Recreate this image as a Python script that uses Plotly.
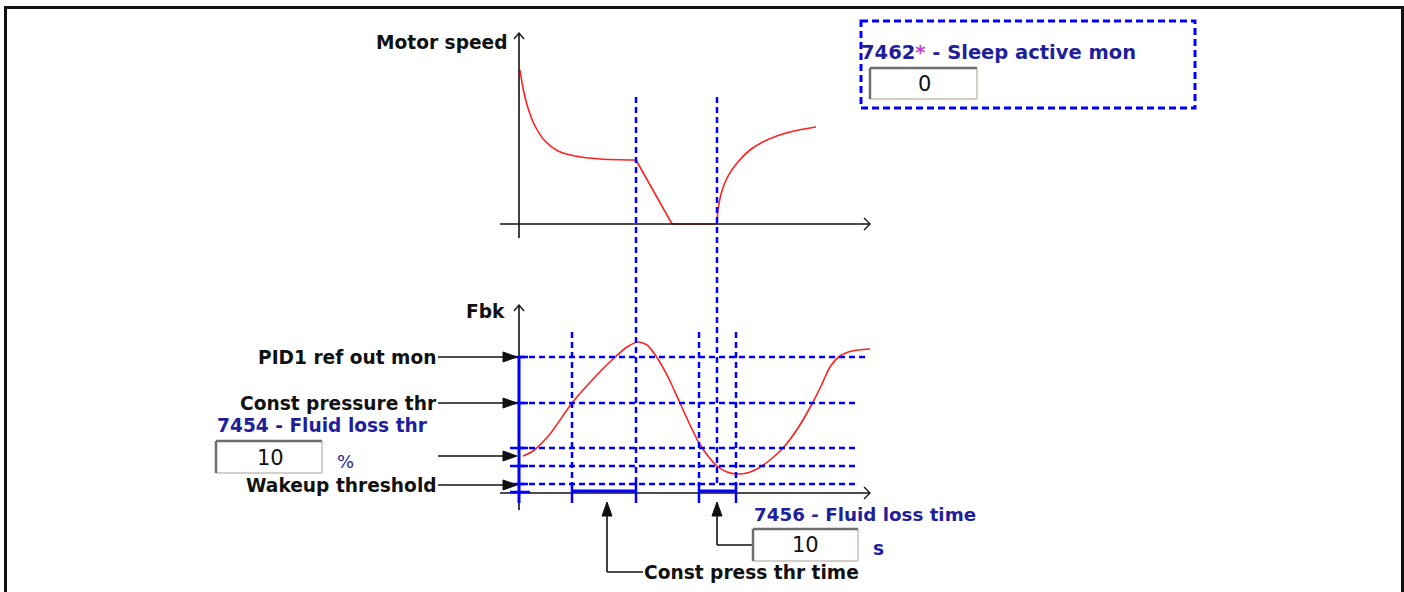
import plotly.graph_objects as go

# ---------------- data (diagram coordinates) ----------------
# Motor speed curve (top panel)
speed_decay_x = [520, 523, 528, 535, 545, 558, 575, 600, 636]
speed_decay_y = [70, 88, 108, 126, 141, 151, 156, 159, 160]
speed_ramp_x = [636, 672, 717]
speed_ramp_y = [160, 224, 224]
speed_rise_x = [717, 718, 721, 727, 737, 750, 767, 790, 816]
speed_rise_y = [224, 210, 194, 178, 163, 150, 140, 132, 127]

# Feedback curve (bottom panel)
fbk_x = [523, 533, 550, 572, 595, 613, 627, 638, 647, 656, 668, 680, 690, 699, 708,
         717, 727, 737, 747, 757, 770, 783, 798, 813, 822, 830, 840, 852, 870]
fbk_y = [456, 451, 434, 403, 377, 359, 347, 342, 345, 356, 377, 403, 425, 443, 456,
         466, 472, 474, 473, 469, 460, 448, 428, 402, 384, 367, 356, 351, 349]

# threshold levels (bottom panel) and their labels
level_y = [357, 403, 448, 466, 484]
level_end = [867, 858, 858, 858, 858]
label_names = ["PID1 ref out mon", "Const pressure thr", None, "Wakeup threshold"]
label_arrow_y = [357, 403, 456, 485]

# event times (vertical markers)
event_x_long = [636, 717]          # run through both panels
event_x_short = [572, 699, 736]    # bottom panel only

BLUE = "#0000ff"
TXT_BLUE = "#1f1f9c"
BLACK = "#111111"
FONT = "DejaVu Sans"

fig = go.Figure()

# curves
fig.add_trace(go.Scatter(x=speed_decay_x, y=speed_decay_y, mode="lines",
                         line=dict(color="#ff2020", width=1.6, shape="spline", smoothing=0.8)))
fig.add_trace(go.Scatter(x=speed_ramp_x, y=speed_ramp_y, mode="lines",
                         line=dict(color="#ff2020", width=1.6)))
fig.add_trace(go.Scatter(x=speed_rise_x, y=speed_rise_y, mode="lines",
                         line=dict(color="#ff2020", width=1.6, shape="spline", smoothing=0.8)))
fig.add_trace(go.Scatter(x=fbk_x, y=fbk_y, mode="lines",
                         line=dict(color="#ff2020", width=1.6, shape="spline", smoothing=0.7)))

shapes = []

def line(x0, y0, x1, y1, color=BLACK, width=1.6, dash=None, layer="above"):
    d = dict(type="line", x0=x0, y0=y0, x1=x1, y1=y1, xref="x", yref="y",
             line=dict(color=color, width=width), layer=layer)
    if dash:
        d["line"]["dash"] = dash
    shapes.append(d)

def path(p, color=BLACK, width=1.5, fill=None):
    d = dict(type="path", path=p, xref="x", yref="y", line=dict(color=color, width=width))
    if fill:
        d["fillcolor"] = fill
    shapes.append(d)

DASH = "6px,4px"

# outer frame
shapes.append(dict(type="rect", x0=5.5, y0=7.5, x1=1402.5, y1=620, xref="x", yref="y",
                   line=dict(color="#111111", width=3)))

# ---- top panel axes
line(519, 33, 519, 238)
line(500, 224, 870, 224)
path("M 514 39 L 519 33 L 524 39", width=1.3)
path("M 864 218 L 870 224 L 864 230", width=1.3)

# ---- bottom panel axes
line(519, 305, 519, 510)
line(500, 493, 870, 493)
path("M 514 311 L 519 305 L 524 311", width=1.3)
path("M 864 487 L 870 493 L 864 499", width=1.3)

# horizontal dashed levels
for yy, xe in zip(level_y, level_end):
    line(519, yy, xe, yy, color=BLUE, width=2.5, dash=DASH)
    line(510, yy, 528, yy, color=BLUE, width=2.5)
line(510, 492, 530, 492, color=BLUE, width=2.5)

# vertical event markers
for xx in event_x_long:
    line(xx, 97, xx, 483 if xx == 717 else 486, color=BLUE, width=2.5, dash=DASH)
for xx in event_x_short:
    line(xx, 332, xx, 486, color=BLUE, width=2.5, dash=DASH)
for xx in [572, 636, 699, 736]:
    line(xx, 483, xx, 503, color=BLUE, width=2.5)
line(572, 491, 636, 491, color=BLUE, width=3)
line(699, 491, 736, 491, color=BLUE, width=3)
# solid blue on y axis
line(519, 357, 519, 503, color=BLUE, width=3)

# label arrows (pointing right)
for yy in label_arrow_y:
    line(438, yy, 505, yy, width=1.6)
    path(f"M 503 {yy-5} L 517 {yy} L 503 {yy+5} Z", width=1, fill=BLACK)

# up arrows under the time axis
line(607, 515, 607, 572, width=1.6)
line(607, 572, 643, 572, width=1.6)
path("M 602 516 L 607 502 L 612 516 Z", width=1, fill=BLACK)
line(717, 515, 717, 545, width=1.6)
line(717, 545, 752, 545, width=1.6)
path("M 712 516 L 717 502 L 722 516 Z", width=1, fill=BLACK)

# sleep box (dashed)
shapes.append(dict(type="rect", x0=861, y0=21, x1=1195, y1=108, xref="x", yref="y",
                   line=dict(color=BLUE, width=3, dash="7px,4px")))

# input boxes (sunken)
def input_box(x0, y0, x1, y1):
    shapes.append(dict(type="rect", x0=x0, y0=y0, x1=x1, y1=y1, xref="x", yref="y",
                       line=dict(width=0), fillcolor="white"))
    line(x0, y1, x1, y1, color="#d4d0c8", width=2)
    line(x1, y0, x1, y1, color="#d4d0c8", width=2)
    line(x0, y0, x1, y0, color="#6e6e6e", width=2.5)
    line(x0, y0, x0, y1, color="#6e6e6e", width=2.5)

input_box(870, 68, 977, 99)
input_box(216, 441, 322, 473)
input_box(753, 529, 858, 561)

# ---------------- texts ----------------
ann = []

def text(x, y, s, color=BLACK, size=18.6, bold=True, anchor="left"):
    ann.append(dict(x=x, y=y, xref="x", yref="y", text=(f"<b>{s}</b>" if bold else s),
                    showarrow=False, xanchor=anchor, yanchor="middle",
                    font=dict(family=FONT, size=size, color=color)))

text(510, 42, "Motor speed", anchor="right")
text(507, 311, "Fbk", anchor="right")
for name, yy in zip(label_names, label_arrow_y):
    if name:
        text(439, yy, name, anchor="right")
text(215, 425, "7454 - Fluid loss thr", color=TXT_BLUE, size=18.6)
text(335, 461, "%", color=TXT_BLUE, size=18, bold=False)
text(270, 458, "10", size=21, bold=False, anchor="center")
text(859, 52, "7462<span style='color:#c040c0'>*</span> - Sleep active mon", color=TXT_BLUE, size=19.5)
text(924, 84, "0", size=21, bold=False, anchor="center")
text(752, 514, "7456 - Fluid loss time", color=TXT_BLUE, size=18.3)
text(805, 545, "10", size=21, bold=False, anchor="center")
text(871, 548, "s", color=TXT_BLUE)
text(642, 572, "Const press thr time", size=18.6)

fig.update_layout(
    width=1404, height=592, margin=dict(l=0, r=0, t=0, b=0),
    paper_bgcolor="white", plot_bgcolor="white", showlegend=False,
    xaxis=dict(range=[0, 1404], visible=False, fixedrange=True),
    yaxis=dict(range=[592, 0], visible=False, fixedrange=True),
    shapes=shapes, annotations=ann,
)
fig.write_html("out.html", config={"displayModeBar": False},
               post_script="document.body.style.margin='0px';document.body.style.overflow='hidden';")
